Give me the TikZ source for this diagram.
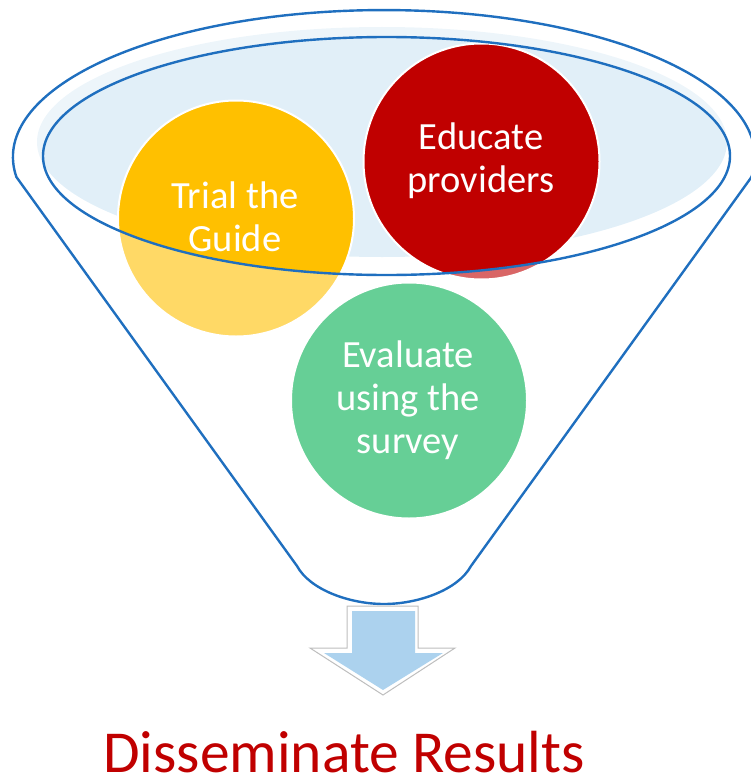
\documentclass[tikz,border=0pt]{standalone}
\usepackage{fontspec}
\setmainfont{Carlito}
\definecolor{funnelblue}{RGB}{31,111,191}
\definecolor{bowlfill}{RGB}{225,239,248}
\definecolor{gold}{RGB}{255,192,0}
\definecolor{crimson}{RGB}{192,0,0}
\definecolor{leaf}{RGB}{0,176,80}
\definecolor{arrowfill}{RGB}{172,210,238}
\definecolor{arrowrim}{RGB}{190,190,190}
\begin{document}
\begin{tikzpicture}[x=1pt,y=-1pt,
  stage/.style={circle, draw=white, line width=2pt, minimum size=236pt, inner sep=0pt},
  stagetext/.style={text=white, align=center, anchor=base, inner sep=0pt, font=\fontsize{38.5}{43}\selectfont},
  rim/.style={draw=funnelblue, line width=2.4pt, line join=round}]
\useasboundingbox (0,0) rectangle (751,784);

% funnel body: top arc of the outer rim, straight sides, rounded spout
\def\funnelpath{(16.4,177) arc[start angle=172.2, end angle=367.8, x radius=371, y radius=147]
  -- (471,566) .. controls (458,590) and (418,604) .. (384,604)
  .. controls (350,604) and (310,590) .. (297,566) -- cycle}
\def\bowlpath{(386.5,156) ellipse[x radius=343.5, y radius=119]}

% liquid surface inside the bowl
\fill[bowlfill] (382,142) ellipse[x radius=345, y radius=115];

% the three stages
\node[stage, fill=gold] (trial) at (236,218.5) {};
\node[stage, fill=crimson] (educate) at (481.5,161.5) {};
\node[stage, fill=leaf] (evaluate) at (409,400.5) {};

% translucent funnel wall over everything outside the bowl opening
\fill[white, fill opacity=0.4, even odd rule] \funnelpath \bowlpath;

% outlines
\draw[rim] \funnelpath;
\draw[rim] \bowlpath;

% stage labels (anchored at the baseline of their last line)
\node[stagetext] (trialtxt) at (235,251) {Trial the\\Guide};
\node[stagetext] (educatetxt) at (481,192) {Educate\\providers};
\node[stagetext] (evaluatetxt) at (408,453) {Evaluate\\using the\\survey};

% down arrow under the spout
\draw[arrowrim, fill=white, line width=1pt, line join=miter]
  (347,606) -- (418,606) -- (418,648) -- (455,648) -- (383,695) -- (310,648) -- (347,648) -- cycle;
\fill[arrowfill]
  (352,611) -- (415,611) -- (415,653) -- (443,653) -- (383,690) -- (324,653) -- (352,653) -- cycle;

% outcome
\node[anchor=base, inner sep=0pt, text=crimson, font=\fontsize{59.5}{62}\selectfont] (outcome) at (344,772) {Disseminate Results};
\end{tikzpicture}
\end{document}
